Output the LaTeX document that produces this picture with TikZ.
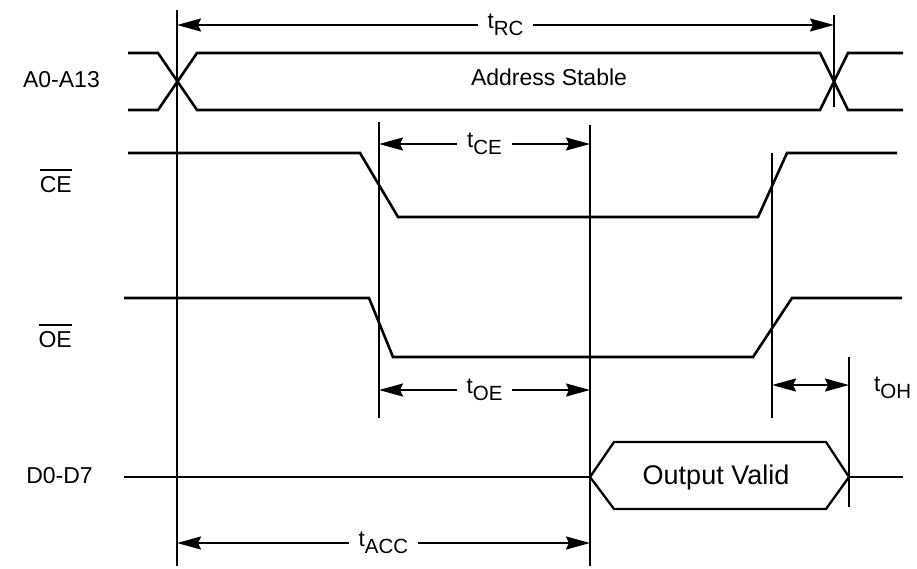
\documentclass[tikz,border=0pt]{standalone}
\usepackage{fontspec}
\setmainfont{Liberation Sans}
\usetikzlibrary{arrows.meta}

% timing parameter name with lowered subscript
\newcommand{\tparam}[1]{t\raisebox{-7pt}{\fontsize{20.5}{20.5}\selectfont #1}}
% active-low signal name
\newcommand{\sigbar}[1]{\setbox0=\hbox{#1}\makebox[0pt][l]{\rule[\dimexpr\ht0+5pt\relax]{\wd0}{2pt}}\box0}

\begin{document}
\begin{tikzpicture}[x=1pt, y=-1pt,
    sig/.style={line width=2.6pt},
    guide/.style={line width=1.8pt},
    dim/.style={line width=1.8pt, {Stealth[length=24pt,width=13pt,inset=3pt]}-{Stealth[length=24pt,width=13pt,inset=3pt]}},
    dimlbl/.style={fill=white, inner xsep=10pt, inner ysep=0pt, font=\fontsize{22.5}{24}\selectfont},
    siglbl/.style={anchor=base east, inner sep=0pt, font=\fontsize{23}{26}\selectfont}]
    \useasboundingbox (0,0) rectangle (917,568);

    % Signal names
    \node[siglbl] (lblA) at (100,87) {A0-A13};
    \node[siglbl] (lblCE) at (72,192) {\sigbar{CE}};
    \node[siglbl] (lblOE) at (72,347) {\sigbar{OE}};
    \node[siglbl] (lblD) at (93,483) {D0-D7};

    % Address bus
    \draw[sig] (128,53) -- (158,53) -- (197,110) -- (820,110) -- (848,53) -- (903,53);
    \draw[sig] (128,110) -- (158,110) -- (197,53) -- (820,53) -- (848,110) -- (903,110);
    \node[anchor=base, inner sep=0pt, font=\fontsize{23}{26}\selectfont] (addr) at (549,85) {Address Stable};

    % CE and OE
    \draw[sig] (128,153) -- (360,153) -- (398,217) -- (758,217) -- (787,153) -- (897,153);
    \draw[sig] (124,298) -- (369,298) -- (393,357) -- (753,357) -- (792,298) -- (902,298);

    % Data bus
    \draw[sig] (124,477) -- (590,477);
    \draw[sig, line width=2.3pt] (590,477) -- (614,442) -- (826,442) -- (849,477) -- (826,509) -- (614,509) -- cycle;
    \draw[sig] (849,477) -- (903,477);
    \node[anchor=base, inner sep=0pt, font=\fontsize{27}{30}\selectfont] (outv) at (716,484) {Output Valid};

    % Reference lines
    \coordinate (g1t) at (177,10);  \coordinate (g1b) at (177,566);
    \coordinate (g2t) at (379,122); \coordinate (g2b) at (379,418);
    \coordinate (g3t) at (590,125); \coordinate (g3b) at (590,566);
    \coordinate (g4t) at (772,153); \coordinate (g4b) at (772,418);
    \coordinate (g5t) at (834,15);  \coordinate (g5b) at (834,107);
    \coordinate (g6t) at (849,357); \coordinate (g6b) at (849,507);
    \foreach \g in {1,...,6}
        \draw[guide] (g\g t) -- (g\g b);

    % Timing arrows
    \coordinate (rcL) at (177,25);  \coordinate (rcR) at (834,25);
    \coordinate (ceL) at (379,144); \coordinate (ceR) at (590,144);
    \coordinate (oeL) at (379,390); \coordinate (oeR) at (590,390);
    \coordinate (ohL) at (772,385); \coordinate (ohR) at (849,385);
    \coordinate (accL) at (177,543); \coordinate (accR) at (590,543);
    \draw[dim] (rcL) -- node[dimlbl] (tRC) {\tparam{RC}} (rcR);
    \draw[dim] (ceL) -- node[dimlbl] (tCE) {\tparam{CE}} (ceR);
    \draw[dim] (oeL) -- node[dimlbl] (tOE) {\tparam{OE}} (oeR);
    \draw[dim] (accL) -- node[dimlbl] (tACC) {\tparam{ACC}} (accR);
    \draw[dim] (ohL) -- (ohR);
    \node[anchor=west, inner sep=0pt, font=\fontsize{22.5}{24}\selectfont] (tOH) at (874,388) {\tparam{OH}};
\end{tikzpicture}
\end{document}
